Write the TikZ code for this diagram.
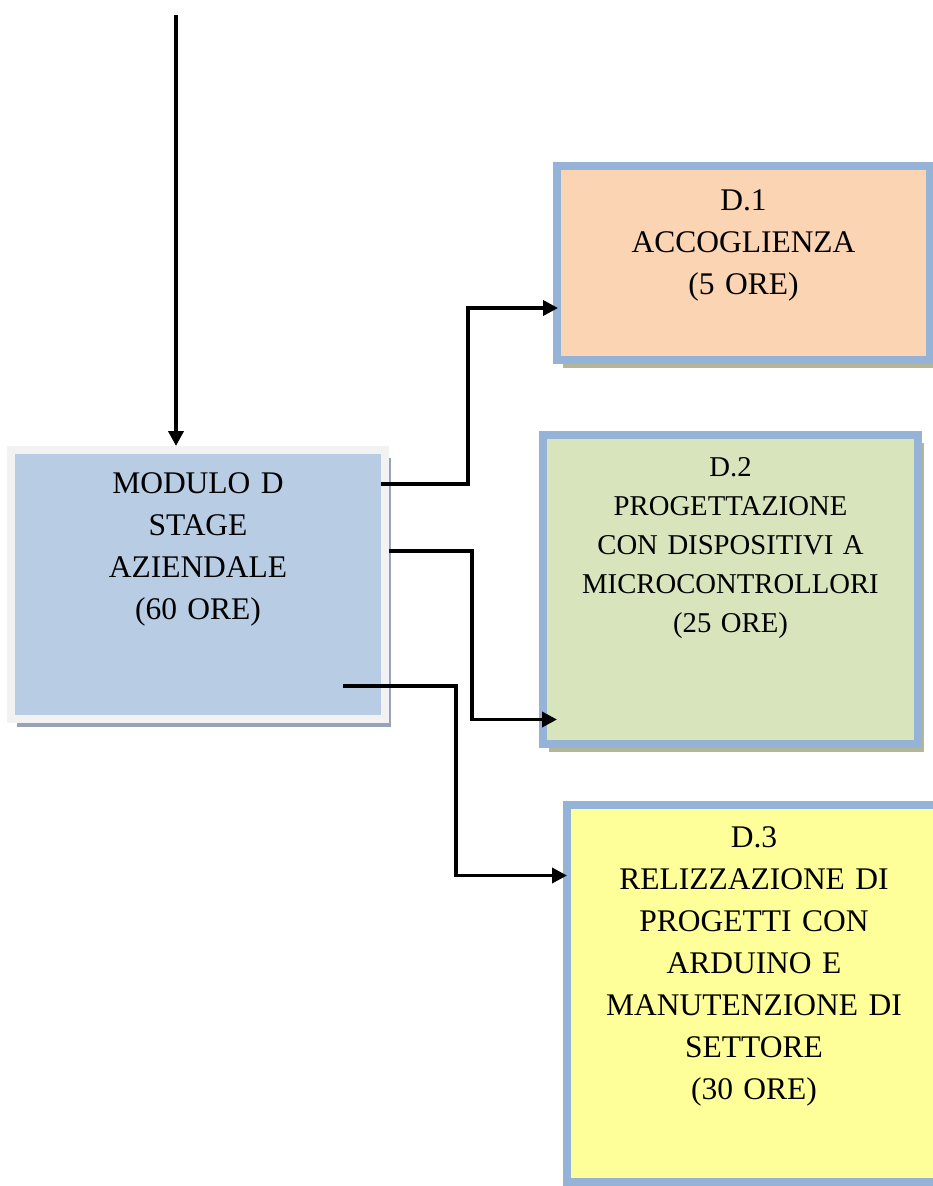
\documentclass[tikz,border=0pt]{standalone}
\usepackage{fontspec}
\setmainfont{Liberation Serif}
\usetikzlibrary{arrows.meta,shadows}

\definecolor{modfill}{HTML}{B8CCE4}
\definecolor{modedge}{HTML}{F2F2F2}
\definecolor{modshade}{HTML}{98A3B7}
\definecolor{unitedge}{HTML}{95B3D7}
\definecolor{unitshade}{HTML}{B3B797}
\definecolor{acfill}{HTML}{FBD4B4}
\definecolor{prfill}{HTML}{D7E4BC}
\definecolor{rlfill}{HTML}{FFFF99}

\begin{document}
\begin{tikzpicture}[x=1pt, y=-1pt,
    box/.style={draw, line width=8pt, anchor=north west, align=center,
        inner sep=0pt, font=\fontsize{31.5}{42}\selectfont},
    modbox/.style={box, draw=modedge, fill=modfill,
        drop shadow={shadow xshift=6pt, shadow yshift=-8pt, fill=modshade, opacity=1}},
    unitbox/.style={box, draw=unitedge,
        drop shadow={shadow xshift=6pt, shadow yshift=-8pt, fill=unitshade, opacity=1}},
    flow/.style={line width=3.5pt, -{Triangle[length=15pt,width=15pt]}}]
        \useasboundingbox (0,0) rectangle (933,1186);

        \node [modbox, text width=374pt, text height=43pt, text depth=226pt] (mod) at (7,446)
            {MODULO D\\STAGE\\AZIENDALE\\(60 ORE)};
        \node [unitbox, fill=acfill, text width=373pt, text height=44pt, text depth=150pt] (d1) at (553,162)
            {D.1\\ACCOGLIENZA\\(5 ORE)};
        \node [unitbox, fill=prfill, text width=375pt, text height=41pt, text depth=268pt,
            font=\fontsize{28.7}{39}\selectfont] (d2) at (539,431)
            {D.2\\PROGETTAZIONE\\CON DISPOSITIVI A\\MICROCONTROLLORI\\(25 ORE)};
        \node [unitbox, fill=rlfill, text width=374pt, text height=42pt, text depth=335pt] (d3) at (563,801)
            {D.3\\RELIZZAZIONE DI\\PROGETTI CON\\ARDUINO E\\MANUTENZIONE DI\\SETTORE\\(30 ORE)};

        \coordinate (in) at (176,15);

        \draw[flow, line width=4pt] (in) -- (in |- mod.north);
        \draw[flow] ([shift={(-8,38)}]mod.north east) -- ++(87,0) |- ([shift={(5,45)}]d1.west);
        \draw[flow] ([shift={(0,105)}]mod.north east) -- ++(83,0) |- ([shift={(18,130)}]d2.west);
        \draw[flow] ([shift={(-46,-37)}]mod.south east) -- ++(113,0) |- ([shift={(4,-118)}]d3.west);
    \end{tikzpicture}
\end{document}
